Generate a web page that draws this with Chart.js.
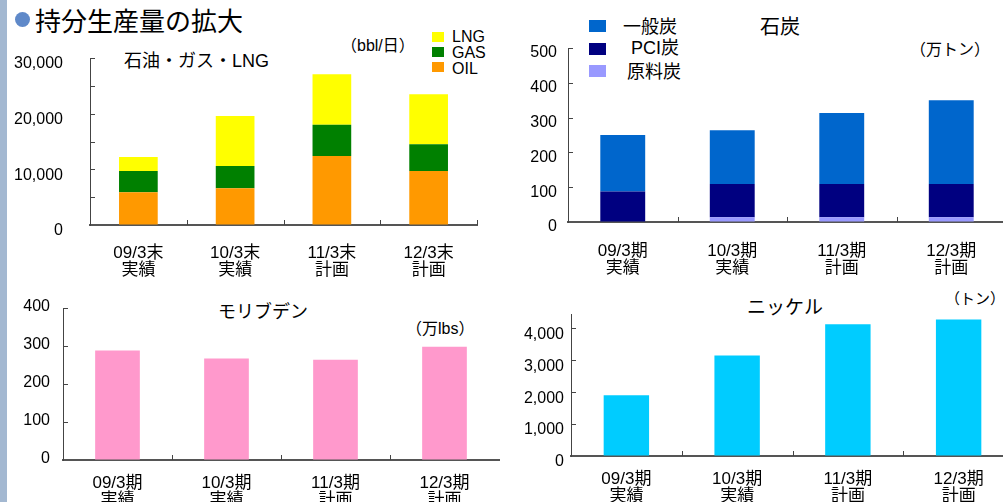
<!DOCTYPE html>
<html><head><meta charset="utf-8">
<script src="https://cdn.jsdelivr.net/npm/chart.js@4.4.0/dist/chart.umd.min.js"></script>
<style>
html,body{margin:0;padding:0;background:#fff;}
body{width:1003px;height:502px;position:relative;overflow:hidden;font-family:"Liberation Sans","Noto Sans CJK JP",sans-serif;color:#000;}
.t{position:absolute;line-height:1;white-space:nowrap;transform:translateY(-50%);}
.sq{position:absolute;}
canvas{position:absolute;}
</style></head><body>
<div style="position:absolute;left:0;top:0;width:7px;height:502px;background:#a3b8d1"></div>
<div style="position:absolute;left:15px;top:12px;width:15px;height:15px;border-radius:50%;background:#5f89c9"></div>
<div class="t" style="left:35px;top:22px;font-size:26px">持分生産量の拡大</div>

<div class="t" style="left:124px;top:61px;font-size:18px">石油・ガス・LNG</div>
<div class="t" style="left:341px;top:46px;font-size:16px">（bbl/日）</div>
<div class="sq" style="left:432px;top:32px;width:12px;height:10px;background:#ffff00"></div>
<div class="sq" style="left:432px;top:47px;width:12px;height:10px;background:#008000"></div>
<div class="sq" style="left:432px;top:62px;width:12px;height:10px;background:#ff9900"></div>
<div class="t" style="left:452px;top:37px;font-size:16px">LNG</div>
<div class="t" style="left:452px;top:53px;font-size:16px">GAS</div>
<div class="t" style="left:452px;top:69px;font-size:16px">OIL</div>

<div class="t" style="left:760px;top:27px;font-size:20px">石炭</div>
<div class="sq" style="left:589px;top:20px;width:17px;height:12px;background:#0066cc"></div>
<div class="sq" style="left:589px;top:43px;width:17px;height:12px;background:#000080"></div>
<div class="sq" style="left:589px;top:65px;width:17px;height:12px;background:#9999ff"></div>
<div class="t" style="left:623px;top:27px;font-size:18px">一般炭</div>
<div class="t" style="left:631px;top:48px;font-size:18px">PCI炭</div>
<div class="t" style="left:627px;top:72px;font-size:18px">原料炭</div>
<div class="t" style="left:910px;top:50px;font-size:16px">（万トン）</div>

<div class="t" style="left:218px;top:312px;font-size:18px">モリブデン</div>
<div class="t" style="left:406px;top:329px;font-size:16px">（万lbs）</div>

<div class="t" style="left:747px;top:307px;font-size:19px">ニッケル</div>
<div class="t" style="left:945px;top:298px;font-size:15px">（トン）</div>

<script>
const oilGasCategories = [["09/3末","実績"],["10/3末","実績"],["11/3末","計画"],["12/3末","計画"]];
const periodCategories = [["09/3期","実績"],["10/3期","実績"],["11/3期","計画"],["12/3期","計画"]];
const oilValues = [5900, 6600, 12400, 9700];
const gasValues = [3800, 4000, 5600, 4800];
const lngValues = [2500, 9000, 9100, 9000];
const cokingCoalValues = [0, 14, 14, 14];
const pciCoalValues = [88, 95, 95, 95];
const thermalCoalValues = [162, 155, 204, 241];
const molybdenumValues = [288, 267, 264, 298];
const nickelValues = [1900, 3150, 4130, 4280];

const oilGasTicks = [0, 5000, 10000, 15000, 20000, 25000, 30000];
const coalTicks = [0, 100, 200, 300, 400, 500];
const molybdenumTicks = [0, 100, 200, 300, 400];
const nickelTicks = [0, 1000, 2000, 3000, 4000];

Chart.defaults.font.family = '"Liberation Sans","Noto Sans CJK JP",sans-serif';
Chart.defaults.color = '#000';

const innerTicks = {
  id: 'innerTicks',
  afterDraw(chart, args, opts) {
    const {ctx, chartArea: a, scales: {x, y}} = chart;
    ctx.save();
    ctx.strokeStyle = '#444';
    ctx.lineWidth = 1;
    ctx.beginPath();
    y.ticks.forEach(t => {
      if (t.value === 0) return;
      const py = Math.round(y.getPixelForValue(t.value)) + 0.5;
      ctx.moveTo(a.left, py); ctx.lineTo(a.left + 5, py);
    });
    const n = x.ticks.length;
    for (let i = 0; i < n; i++) {
      if (i === n - 1 && !opts.endTick) break;
      const px = Math.round(x.getPixelForValue(i + 0.5)) + 0.5;
      ctx.moveTo(px, a.bottom); ctx.lineTo(px, a.bottom - 5);
    }
    ctx.stroke();
    ctx.restore();
  }
};

function makeChart(box, area, data, o) {
  const c = document.createElement('canvas');
  c.width = box.w; c.height = box.h;
  c.style.left = box.x + 'px'; c.style.top = box.y + 'px';
  c.style.width = box.w + 'px'; c.style.height = box.h + 'px';
  document.body.appendChild(c);
  return new Chart(c, {
    type: 'bar',
    data,
    plugins: [innerTicks],
    options: {
      responsive: false, animation: false, devicePixelRatio: 1,
      layout: {padding: {left: 0, top: area.t - box.y, right: box.x + box.w - area.r, bottom: 0}},
      plugins: {legend: {display: false}, tooltip: {enabled: false}, innerTicks: {endTick: !!o.endTick}},
      datasets: {bar: {categoryPercentage: 1, barPercentage: o.barPct, borderWidth: 0}},
      scales: {
        x: {
          stacked: true, offset: true,
          grid: {display: true, drawOnChartArea: false, drawTicks: false},
          border: {display: true, color: '#555', width: 2},
          ticks: {font: {size: 17, lineHeight: 1.05}, padding: o.xPad, maxRotation: 0, minRotation: 0, autoSkip: false, color: '#000'},
          afterFit: s => { s.height = box.y + box.h - area.b; }
        },
        y: {
          stacked: true, min: 0, max: o.max,
          grid: {display: true, drawOnChartArea: false, drawTicks: false},
          border: {display: true, color: '#444', width: 1},
          ticks: {font: {size: 16}, padding: o.yPad, labelOffset: o.yOff, autoSkip: false, color: '#000',
                  callback: o.fmt},
          afterBuildTicks: s => { s.ticks = o.ticks.map(v => ({value: v})); },
          afterFit: s => { s.width = area.l - box.x; }
        }
      }
    }
  });
}

makeChart({x: 0, y: 14, w: 490, h: 276}, {l: 90, t: 58, r: 477, b: 225}, {
  labels: oilGasCategories,
  datasets: [
    {label: 'OIL', data: oilValues, backgroundColor: '#ff9900'},
    {label: 'GAS', data: gasValues, backgroundColor: '#008000'},
    {label: 'LNG', data: lngValues, backgroundColor: '#ffff00'}
  ]
}, {max: 30000, ticks: oilGasTicks, yPad: 27, yOff: 6, xPad: 19, barPct: 0.40, endTick: true,
    fmt: v => v % 10000 === 0 ? v.toLocaleString('en-US') : ''});

makeChart({x: 500, y: 18, w: 510, h: 274}, {l: 568, t: 48, r: 1006, b: 222}, {
  labels: periodCategories,
  datasets: [
    {label: '原料炭', data: cokingCoalValues, backgroundColor: '#9999ff'},
    {label: 'PCI炭', data: pciCoalValues, backgroundColor: '#000080'},
    {label: '一般炭', data: thermalCoalValues, backgroundColor: '#0066cc'}
  ]
}, {max: 500, ticks: coalTicks, yPad: 11, yOff: 5, xPad: 20, barPct: 0.41, fmt: v => String(v)});

makeChart({x: 0, y: 276, w: 510, h: 226}, {l: 63, t: 308, r: 499, b: 460}, {
  labels: periodCategories,
  datasets: [
    {label: 'モリブデン', data: molybdenumValues, backgroundColor: '#ff99cc'}
  ]
}, {max: 400, ticks: molybdenumTicks, yPad: 13, yOff: -1, xPad: 14, barPct: 0.41, fmt: v => String(v)});

makeChart({x: 500, y: 286, w: 520, h: 216}, {l: 571, t: 314, r: 1014, b: 456}, {
  labels: periodCategories,
  datasets: [
    {label: 'ニッケル', data: nickelValues, backgroundColor: '#00ccff'}
  ]
}, {max: 4450, ticks: nickelTicks, yPad: 7, yOff: 6, xPad: 14, barPct: 0.41, fmt: v => v.toLocaleString('en-US')});
</script>
</body></html>
